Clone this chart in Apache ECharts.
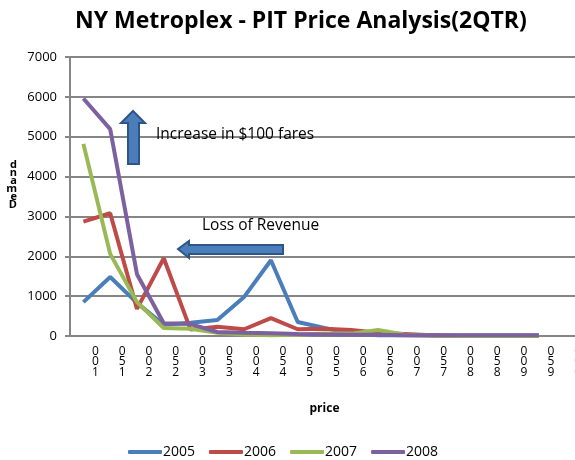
<!DOCTYPE html>
<html>
<head>
<meta charset="utf-8">
<script src="https://cdn.jsdelivr.net/npm/echarts@6/dist/echarts.min.js"></script>
<style>
  html, body { margin: 0; padding: 0; background: #fff; }
  #chart { width: 575px; height: 460px; }
</style>
</head>
<body>
<div id="chart"></div>
<script>
// price buckets (drawn stacked, read bottom-to-top)
const prices = ['100', '150', '200', '250', '300', '350', '400', '450', '500', '550',
  '600', '650', '700', '750', '800', '850', '900', '950', '1000'];
const years = ['2005', '2006', '2007', '2008'];
const d2005 = [850, 1480, 830, 280, 330, 400, 980, 1900, 350, 200, 60, 20, 20, 10, 10, 10, 10, 10];
const d2006 = [2870, 3080, 680, 1950, 160, 230, 170, 450, 170, 180, 150, 80, 50, 20, 0, 0, 0, 0];
const d2007 = [4820, 2060, 850, 200, 180, 80, 40, 20, 30, 60, 60, 150, 30, 10, 0, 0, 0, 0];
const d2008 = [5960, 5190, 1550, 320, 300, 100, 80, 70, 50, 40, 30, 30, 20, 20, 20, 20, 20, 20];
const colors = ['#4a7ebb', '#be4b48', '#98b954', '#7d60a0'];

const font = '"Open Sans", sans-serif';
const chart = echarts.init(document.getElementById('chart'));

function lineSeries (name, data, color) {
  return {
    name: name,
    type: 'line',
    data: data,
    symbol: 'none',
    color: color,
    lineStyle: { width: 4, color: color },
    animation: false
  };
}

chart.setOption({
  animation: false,
  title: {
    text: 'NY Metroplex - PIT Price Analysis(2QTR)',
    left: 70,
    top: 5,
    textStyle: { fontFamily: font, fontWeight: 'bold', fontSize: 23, color: '#000' }
  },
  grid: { left: 70, top: 57, right: -4, bottom: 124, outerBoundsMode: 'none', containLabel: false },
  legend: {
    bottom: -4,
    left: 123,
    icon: 'roundRect',
    itemWidth: 34,
    itemHeight: 4,
    itemGap: 14,
    textStyle: { fontFamily: font, fontSize: 14, color: '#000', padding: [0, 0, 0, -4] },
    data: years
  },
  xAxis: {
    type: 'category',
    data: prices,
    boundaryGap: true,
    name: 'price',
    nameLocation: 'middle',
    nameGap: 67,
    nameTextStyle: { fontFamily: font, fontWeight: 'bold', fontSize: 12, color: '#000' },
    axisLine: { lineStyle: { color: '#868686', width: 2 } },
    axisTick: { show: false },
    axisLabel: {
      interval: 0,
      margin: 10,
      fontFamily: font,
      fontSize: 12,
      lineHeight: 10.5,
      color: '#000',
      padding: [0, 0, 0, 24],
      formatter: function (v) { return v.split('').reverse().join('\n'); }
    }
  },
  yAxis: {
    type: 'value',
    min: 0,
    max: 7000,
    interval: 1000,
    // "Demand", stacked bottom-to-top; trailing blank lines lift it up
    name: 'd\nn\na\nm\ne\nD\n\n\n',
    nameLocation: 'middle',
    nameRotate: 0,
    nameGap: 53,
    nameTextStyle: { fontFamily: font, fontWeight: 'bold', fontSize: 11, lineHeight: 8, color: '#000' },
    axisLine: { show: true, lineStyle: { color: '#868686', width: 2 } },
    axisTick: { show: true, length: 5, lineStyle: { color: '#868686', width: 2 } },
    splitLine: { lineStyle: { color: '#868686', width: 2 } },
    axisLabel: { fontFamily: font, fontSize: 13, color: '#000', margin: 13, formatter: function (v) { return String(v); } }
  },
  series: [
    lineSeries(years[0], d2005, colors[0]),
    lineSeries(years[1], d2006, colors[1]),
    lineSeries(years[2], d2007, colors[2]),
    lineSeries(years[3], d2008, colors[3])
  ],
  graphic: [
    {
      type: 'polygon',
      shape: { points: [[133, 111], [145, 123], [139, 123], [139, 164], [128, 164], [128, 123], [121, 123]] },
      style: { fill: '#4a7ebb', stroke: '#2f5487', lineWidth: 2 },
      z: 100
    },
    {
      type: 'polygon',
      shape: { points: [[178, 249], [189, 241], [189, 245], [283, 245], [283, 254], [189, 254], [189, 258]] },
      style: { fill: '#4a7ebb', stroke: '#2f5487', lineWidth: 2 },
      z: 100
    },
    {
      type: 'text',
      left: 156,
      top: 127,
      style: { text: 'Increase in $100 fares', fontFamily: font, fontSize: 15.5, fill: '#000' },
      z: 100
    },
    {
      type: 'text',
      left: 202,
      top: 218,
      style: { text: 'Loss of Revenue', fontFamily: font, fontSize: 15.5, fill: '#000' },
      z: 100
    }
  ]
});
</script>
</body>
</html>
